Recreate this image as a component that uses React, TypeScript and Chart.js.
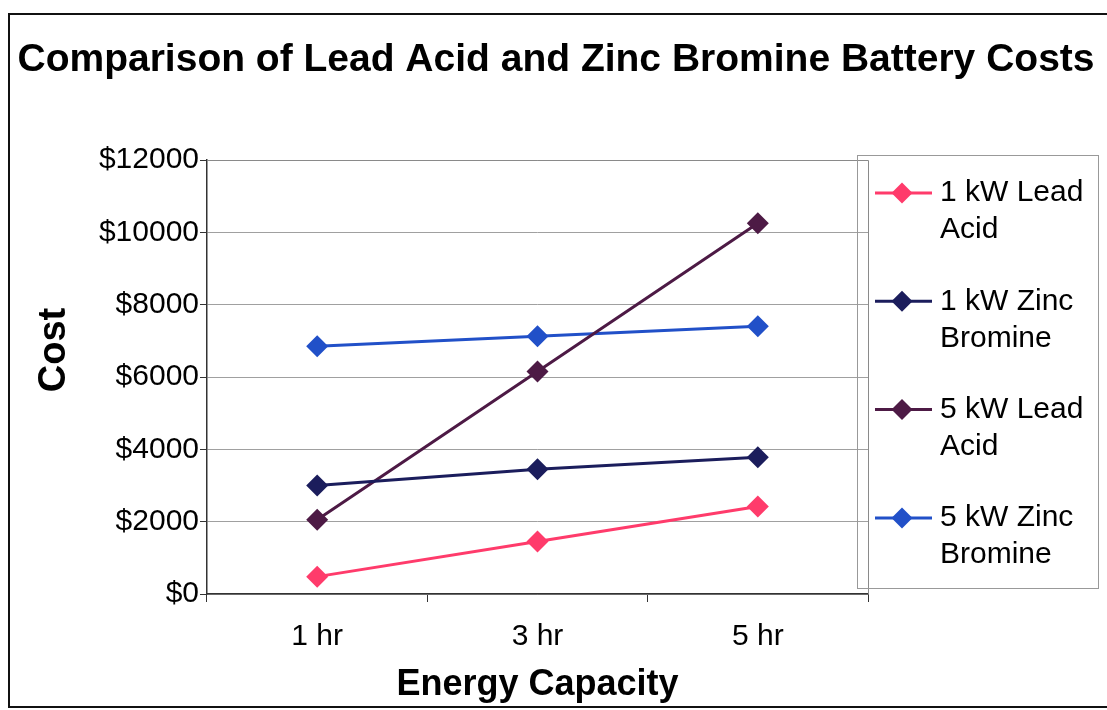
import React, { useEffect, useRef } from 'react';
import { Chart, registerables } from 'chart.js';

Chart.register(...registerables);

const chartTitle = 'Comparison of Lead Acid and Zinc Bromine Battery Costs';
const categories = ['1 hr', '3 hr', '5 hr'];
const seriesNames = ['1 kW Lead Acid', '1 kW Zinc Bromine', '5 kW Lead Acid', '5 kW Zinc Bromine'];
const lead1kW = [480, 1450, 2420];
const zinc1kW = [3000, 3450, 3780];
const lead5kW = [2050, 6150, 10250];
const zinc5kW = [6850, 7130, 7400];
const seriesColors = ['#FF3B6B', '#1B1D5C', '#4D1A45', '#2150C8'];
const yMin = 0;
const yMax = 12000;
const yStep = 2000;

const FONT = "'Liberation Sans', Arial, Helvetica, sans-serif";

const framePlugin = {
  id: 'frame',
  beforeDatasetsDraw(chart: any) {
    const { ctx, chartArea } = chart;
    ctx.save();
    ctx.strokeStyle = '#8a8a8a';
    ctx.lineWidth = 1;
    ctx.beginPath();
    ctx.moveTo(chartArea.left, chartArea.top + 0.5);
    ctx.lineTo(chartArea.right + 0.5, chartArea.top + 0.5);
    ctx.lineTo(chartArea.right + 0.5, chartArea.bottom);
    ctx.stroke();
    ctx.restore();
  },
  afterDraw(chart: any) {
    const { ctx } = chart;
    ctx.save();
    // outer frame
    ctx.strokeStyle = '#111';
    ctx.lineWidth = 2;
    ctx.strokeRect(9, 14, 1110, 693);
    // chart title
    ctx.fillStyle = '#000';
    ctx.font = `bold 39px ${FONT}`;
    ctx.textAlign = 'center';
    ctx.textBaseline = 'middle';
    ctx.fillText(chartTitle, 556, 60);
    // y axis title
    ctx.font = `bold 38px ${FONT}`;
    ctx.translate(55, 350);
    ctx.rotate(-Math.PI / 2);
    ctx.fillText('Cost', 0, 0);
    ctx.restore();

    // legend
    ctx.save();
    const bx = 857, by = 155, bw = 241, bh = 433;
    ctx.strokeStyle = '#999';
    ctx.lineWidth = 1;
    ctx.strokeRect(bx + 0.5, by + 0.5, bw, bh);
    ctx.font = `30px ${FONT}`;
    ctx.textAlign = 'left';
    ctx.textBaseline = 'middle';
    chart.data.datasets.forEach((ds: any, i: number) => {
      const y0 = 193 + i * 108.3;
      ctx.strokeStyle = ds.borderColor;
      ctx.lineWidth = 3;
      ctx.beginPath();
      ctx.moveTo(875, y0);
      ctx.lineTo(932, y0);
      ctx.stroke();
      ctx.fillStyle = ds.borderColor;
      const r = 10.5;
      ctx.beginPath();
      ctx.moveTo(902 - r, y0);
      ctx.lineTo(902, y0 - r);
      ctx.lineTo(902 + r, y0);
      ctx.lineTo(902, y0 + r);
      ctx.closePath();
      ctx.fill();
      const words = String(ds.label).split(' ');
      const line1 = words.slice(0, 3).join(' ');
      const line2 = words.slice(3).join(' ');
      ctx.fillStyle = '#000';
      ctx.fillText(line1, 940, y0);
      ctx.fillText(line2, 940, y0 + 37);
    });
    ctx.restore();
  },
};

export default function App() {
  const ref = useRef<HTMLCanvasElement>(null);
  useEffect(() => {
    document.body.style.margin = '0';
    if (!ref.current) return;
    const seriesData = [lead1kW, zinc1kW, lead5kW, zinc5kW];
    const chart = new Chart(ref.current, {
      type: 'line',
      data: {
        labels: categories,
        datasets: seriesNames.map((name, i) => ({
          label: name,
          data: seriesData[i],
          borderColor: seriesColors[i],
          backgroundColor: seriesColors[i],
          borderWidth: 3,
          pointStyle: 'rectRot',
          pointRadius: 11,
          pointBorderWidth: 0,
          pointBackgroundColor: seriesColors[i],
          tension: 0,
          fill: false,
        })),
      },
      options: {
        animation: false,
        responsive: false,
        layout: { padding: { left: 0, right: 239, top: 160, bottom: 0 } },
        plugins: {
          legend: { display: false },
          tooltip: { enabled: false },
          title: { display: false },
        },
        scales: {
          x: {
            type: 'category',
            offset: true,
            grid: { display: true, drawOnChartArea: false, offset: true, tickLength: 8, tickColor: '#333' },
            border: { color: '#333', width: 1.5 },
            ticks: { color: '#000', font: { size: 30, family: FONT }, padding: 17, maxRotation: 0 },
            title: {
              display: true,
              text: 'Energy Capacity',
              color: '#000',
              font: { size: 36, weight: 'bold', family: FONT },
              padding: { top: 0, bottom: 3 },
            },
            afterFit: (s: any) => { s.height = 116; },
          },
          y: {
            min: yMin,
            max: yMax,
            ticks: {
              stepSize: yStep,
              color: '#000',
              font: { size: 30, family: FONT },
              padding: 1,
              callback: (v: any) => '$' + v,
            },
            grid: { color: '#a0a0a0', lineWidth: 1, tickLength: 7, tickColor: '#333' },
            border: { color: '#333', width: 1.5 },
            afterFit: (s: any) => { s.width = 207; },
          },
        },
      },
      plugins: [framePlugin],
    });
    return () => chart.destroy();
  }, []);
  return (
    <div style={{ width: 1107, height: 710, background: '#fff' }}>
      <canvas ref={ref} width={1107} height={710} />
    </div>
  );
}
